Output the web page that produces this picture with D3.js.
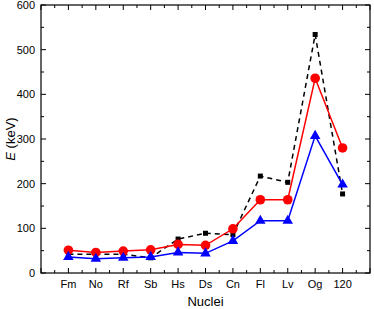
<!DOCTYPE html>
<html><head><meta charset="utf-8">
<script src="https://cdn.jsdelivr.net/npm/d3@7"></script>
<style>body{margin:0;background:#fff}svg{display:block}text{font-family:"Liberation Sans",Arial,sans-serif}</style>
</head><body>
<script>
const categories = ["Fm","No","Rf","Sb","Hs","Ds","Cn","Fl","Lv","Og","120"];
const seriesBlack = [42,42,42,34,76,89,86,217,203,534,177];
const seriesRed = [51,46,49,52,64,62,99,164,164,436,280];
const seriesBlue = [36,32,34,36,46,44,72,117,117,307,198];
const yTicks = [0,100,200,300,400,500,600];

const W=374,H=309;
const m={l:41,r:4,t:5,b:36};
const svg=d3.select("body").append("svg").attr("width",W).attr("height",H);
const x=d3.scaleLinear().domain([0,categories.length+1]).range([m.l,W-m.r]);
const y=d3.scaleLinear().domain([0,600]).range([H-m.b,m.t]);
const g=svg.append("g");
const x0=m.l,x1=W-m.r,y0=H-m.b,y1=m.t;

// ticks
const xMajor=d3.range(0,categories.length+2);
const xMinor=d3.range(0.5,categories.length+1,1);
const yMinor=d3.range(50,600,100);
const tk=g.append("g").attr("stroke","#000").attr("stroke-width",1);
xMajor.forEach(v=>{const px=x(v);
  tk.append("line").attr("x1",px).attr("x2",px).attr("y1",y0).attr("y2",y0-5);
  tk.append("line").attr("x1",px).attr("x2",px).attr("y1",y1).attr("y2",y1+5);});
xMinor.forEach(v=>{const px=x(v);
  tk.append("line").attr("x1",px).attr("x2",px).attr("y1",y0).attr("y2",y0-3);
  tk.append("line").attr("x1",px).attr("x2",px).attr("y1",y1).attr("y2",y1+3);});
yTicks.forEach(v=>{const py=y(v);
  tk.append("line").attr("x1",x0).attr("x2",x0+5).attr("y1",py).attr("y2",py);
  tk.append("line").attr("x1",x1).attr("x2",x1-5).attr("y1",py).attr("y2",py);});
yMinor.forEach(v=>{const py=y(v);
  tk.append("line").attr("x1",x0).attr("x2",x0+3).attr("y1",py).attr("y2",py);
  tk.append("line").attr("x1",x1).attr("x2",x1-3).attr("y1",py).attr("y2",py);});
g.append("rect").attr("x",x0).attr("y",y1).attr("width",x1-x0).attr("height",y0-y1)
 .attr("fill","none").attr("stroke","#000").attr("stroke-width",1.2);

// tick labels
g.selectAll(".yl").data(yTicks).join("text").attr("x",x0-6).attr("y",d=>y(d)+4)
 .attr("text-anchor","end").attr("font-size",11).text(d=>d);
g.selectAll(".xl").data(categories).join("text").attr("x",(d,i)=>x(i+1)).attr("y",y0+15)
 .attr("text-anchor","middle").attr("font-size",11).text(d=>d);

// axis titles
g.append("text").attr("x",(x0+x1)/2).attr("y",H-3).attr("text-anchor","middle").attr("font-size",13).text("Nuclei");
const yt=g.append("text").attr("transform",`translate(15,${(y0+y1)/2}) rotate(-90)`).attr("text-anchor","middle").attr("font-size",13);
yt.append("tspan").attr("font-style","italic").text("E");
yt.append("tspan").text(" (keV)");

const line=d3.line().x((d,i)=>x(i+1)).y(d=>y(d));
// black
g.append("path").datum(seriesBlack).attr("d",line).attr("fill","none").attr("stroke","#000").attr("stroke-width",1.5).attr("stroke-dasharray","5,4");
g.selectAll(".sq").data(seriesBlack).join("rect").attr("x",(d,i)=>x(i+1)-2.5).attr("y",d=>y(d)-2.5).attr("width",5).attr("height",5).attr("fill","#000");
// red
g.append("path").datum(seriesRed).attr("d",line).attr("fill","none").attr("stroke","#ff0000").attr("stroke-width",1.5);
g.selectAll(".ci").data(seriesRed).join("circle").attr("cx",(d,i)=>x(i+1)).attr("cy",d=>y(d)).attr("r",4.8).attr("fill","#ff0000");
// blue
g.append("path").datum(seriesBlue).attr("d",line).attr("fill","none").attr("stroke","#0000ff").attr("stroke-width",1.5);
const tri=d3.symbol().type(d3.symbolTriangle).size(48);
g.selectAll(".tr").data(seriesBlue).join("path").attr("d",tri).attr("transform",(d,i)=>`translate(${x(i+1)},${y(d)})`).attr("fill","#0000ff");
</script>
</body></html>
